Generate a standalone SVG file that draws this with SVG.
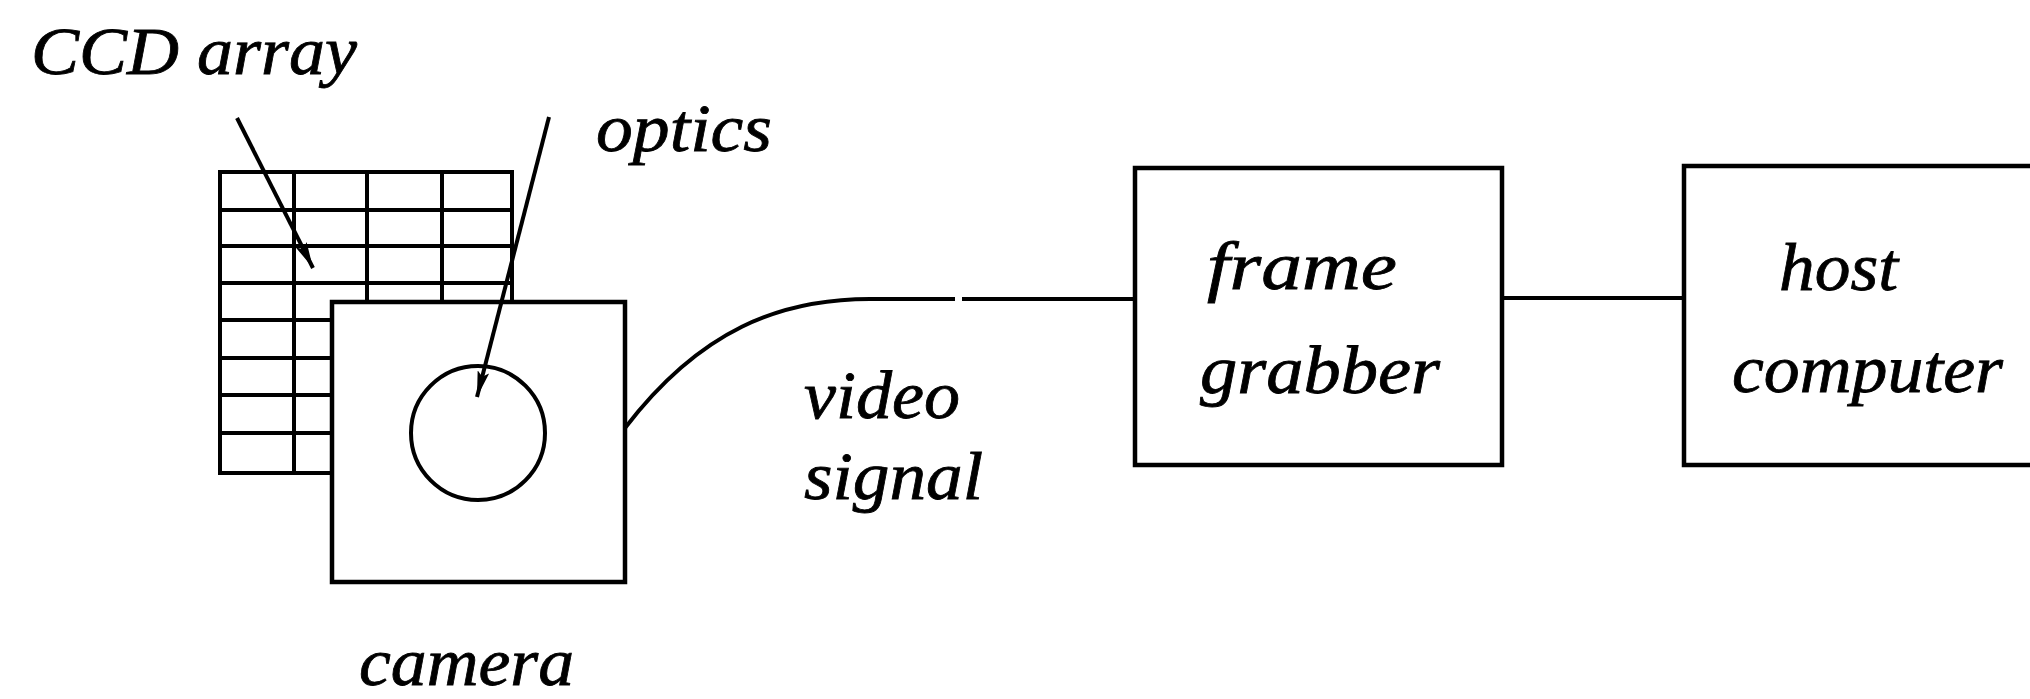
<svg xmlns="http://www.w3.org/2000/svg" width="2030" height="699" viewBox="0 0 2030 699">
<style>
.t{font-family:'Liberation Serif','DejaVu Serif',serif;font-style:italic;font-size:68px;fill:#000;stroke:#000;stroke-width:0.8}
.b{fill:#fff;stroke:#000;stroke-width:4.5}
.g{fill:none;stroke:#000;stroke-width:4}
.c{fill:none;stroke:#000;stroke-width:4}
</style>
<defs>
<marker id="ah" viewBox="0 0 26 12" refX="26" refY="6" markerWidth="26" markerHeight="12" markerUnits="userSpaceOnUse" orient="auto">
<path d="M0,0 L26,6 L0,12 L5,6 Z" fill="#000"/>
</marker>
</defs>
<rect width="2030" height="699" fill="#fff"/>
<g id="ccd-array">
<rect class="g" x="220" y="172" width="292" height="301" fill="#fff"/>
<path class="g" d="M294,172V473M367,172V473M442,172V473M220,210H512M220,246H512M220,283H512M220,320H512M220,358H512M220,395H512M220,433H512"/>
</g>
<g id="camera">
<rect class="b" x="332" y="302" width="293" height="280"/>
<circle class="c" cx="478" cy="433" r="67"/>
</g>
<g id="frame-grabber">
<rect class="b" x="1135" y="168" width="367" height="297"/>
</g>
<g id="host-computer">
<rect class="b" x="1684" y="166" width="360" height="299"/>
</g>
<g id="connectors">
<path class="c" d="M237,118 L313,268" marker-end="url(#ah)"/>
<path class="c" d="M549,117 L477,397" marker-end="url(#ah)"/>
<path class="c" d="M625,428 C700,330 780,299 870,299 L955,299 M962,299 L1135,299"/>
<path class="c" d="M1502,298 L1684,298"/>
</g>
<g id="labels" font-family="Liberation Serif, serif" font-style="italic">
<text class="t" x="31" y="74" textLength="326" lengthAdjust="spacingAndGlyphs">CCD array</text>
<text class="t" x="596" y="151" textLength="176" lengthAdjust="spacingAndGlyphs">optics</text>
<text class="t" x="804" y="418" textLength="156" lengthAdjust="spacingAndGlyphs">video</text>
<text class="t" x="804" y="499" textLength="179" lengthAdjust="spacingAndGlyphs">signal</text>
<text class="t" x="1207" y="289" textLength="190" lengthAdjust="spacingAndGlyphs">frame</text>
<text class="t" x="1200" y="393" textLength="240" lengthAdjust="spacingAndGlyphs">grabber</text>
<text class="t" x="1779" y="290" textLength="119" lengthAdjust="spacingAndGlyphs">host</text>
<text class="t" x="1732" y="392" textLength="271" lengthAdjust="spacingAndGlyphs">computer</text>
<text class="t" x="359" y="685" textLength="215" lengthAdjust="spacingAndGlyphs">camera</text>
</g>
</svg>
